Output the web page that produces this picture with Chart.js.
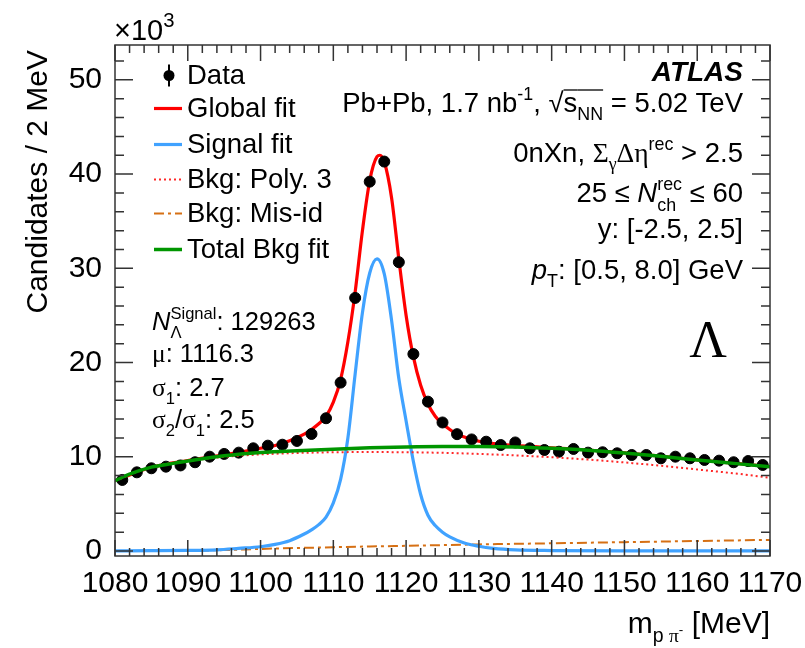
<!DOCTYPE html>
<html>
<head>
<meta charset="utf-8">
<script src="https://cdn.jsdelivr.net/npm/chart.js@4.4.1/dist/chart.umd.min.js"></script>
<style>
html, body { margin: 0; padding: 0; background: #fff; }
#wrap { width: 805px; height: 648px; }
</style>
</head>
<body>
<div id="wrap"><canvas id="c" width="805" height="648"></canvas></div>
<script>
//--Data (x10^3 candidates / 2 MeV)----------------------------
var dataMass = [1081, 1083, 1085, 1087, 1089, 1091, 1093, 1095, 1097, 1099,
                1101, 1103, 1105, 1107, 1109, 1111, 1113, 1115, 1117, 1119,
                1121, 1123, 1125, 1127, 1129, 1131, 1133, 1135, 1137, 1139,
                1141, 1143, 1145, 1147, 1149, 1151, 1153, 1155, 1157, 1159,
                1161, 1163, 1165, 1167, 1169];
var dataCounts = [7.54, 8.35, 8.78, 8.95, 9.08, 9.42, 10.01, 10.3, 10.44, 10.9,
                  11.18, 11.28, 11.68, 12.42, 14.09, 17.87, 26.86, 39.2, 41.33, 30.65,
                  20.9, 15.85, 13.64, 12.4, 11.84, 11.6, 11.25, 11.52, 10.9, 10.72,
                  10.54, 10.83, 10.44, 10.48, 10.37, 10.19, 10.19, 9.84, 10.01, 9.84,
                  9.66, 9.59, 9.42, 9.55, 9.13];

//--Global fit----------------------------
var globalMass = [1080, 1085, 1090, 1095, 1098, 1100, 1102, 1104, 1106, 1107,
                  1108, 1109, 1110, 1111, 1112, 1113, 1114, 1115, 1116, 1116.4,
                  1117, 1118, 1119, 1120, 1121, 1122, 1123, 1124, 1125, 1126,
                  1127, 1128, 1129, 1130, 1132, 1135, 1140, 1145, 1150, 1155,
                  1160, 1165, 1170];
var globalFit = [7.45, 8.88, 9.6, 10.2, 10.6, 10.9, 11.2, 11.7, 12.4, 12.9,
                 13.5, 14.3, 15.8, 18.2, 22.2, 27.5, 34.0, 39.3, 41.85, 42.0,
                 41.3, 37.5, 31.0, 25.0, 20.6, 17.6, 15.6, 14.3, 13.5, 12.9,
                 12.4, 12.1, 11.85, 11.65, 11.4, 11.2, 10.95, 10.72, 10.42, 10.07,
                 9.67, 9.32, 8.97];

//--Signal fit----------------------------
var signalMass = [1080, 1085, 1090, 1094, 1097, 1100, 1102, 1104, 1106, 1107,
                  1108, 1109, 1110, 1111, 1112, 1113, 1114, 1115, 1116, 1117,
                  1118, 1119, 1120, 1121, 1122, 1123, 1124, 1125, 1126, 1128,
                  1130, 1132, 1135, 1140, 1150, 1160, 1170];
var signalFit = [0.02, 0.03, 0.06, 0.13, 0.28, 0.45, 0.7, 1.1, 1.8, 2.25,
                 2.8, 3.6, 5.1, 7.6, 12.0, 18.8, 25.3, 29.5, 31.0, 29.4,
                 24.5, 18.3, 13.8, 9.5, 6.0, 3.8, 2.7, 2.0, 1.5, 0.85,
                 0.5, 0.28, 0.12, 0.05, 0.02, 0.02, 0.02];

//--Backgrounds----------------------------
var polyMass = [1080, 1085, 1090, 1095, 1100, 1105, 1110, 1115, 1120, 1125,
                1130, 1135, 1140, 1145, 1150, 1155, 1160, 1165, 1170];
var polyBkg = [7.45, 8.9, 9.55, 10.0, 10.25, 10.4, 10.48, 10.5, 10.48, 10.42,
               10.3, 10.15, 9.95, 9.7, 9.4, 9.05, 8.65, 8.25, 7.78];

var misidMass = [1080, 1090, 1095, 1100, 1105, 1110, 1115, 1120, 1130, 1140, 1150, 1160, 1170];
var misidBkg = [0, 0.02, 0.1, 0.22, 0.32, 0.4, 0.48, 0.55, 0.7, 0.82, 0.94, 1.06, 1.18];

var totalMass = [1080, 1082, 1085, 1088, 1090, 1095, 1100, 1105, 1110, 1115,
                 1120, 1125, 1130, 1135, 1140, 1145, 1150, 1155, 1160, 1165, 1170];
var totalBkg = [7.45, 8.15, 8.9, 9.3, 9.55, 10.1, 10.45, 10.65, 10.8, 10.95,
                11.05, 11.1, 11.1, 11.05, 10.9, 10.7, 10.4, 10.05, 9.65, 9.3, 8.95];

var xTicks = [1080, 1090, 1100, 1110, 1120, 1130, 1140, 1150, 1160, 1170];
var yTicks = [0, 10, 20, 30, 40, 50];

//--Helpers----------------------------
var SANS = "'Liberation Sans', Arial, sans-serif";
var SERIF = "'Liberation Serif', 'Times New Roman', serif";

function pts(xs, ys) {
    return xs.map(function(x, i) { return { x: x, y: ys[i] }; });
}

function fontStr(p, size) {
    var sz = size * (p.s || 1);
    return (p.it ? 'italic ' : '') + (p.b ? 'bold ' : '') + sz + 'px ' + (p.serif ? SERIF : SANS);
}

function partWidth(ctx, p, size) {
    if (p.stack) {
        ctx.font = fontStr({ s: 0.65 }, size);
        return Math.max(ctx.measureText(p.stack[0]).width, ctx.measureText(p.stack[1]).width);
    }
    ctx.font = fontStr(p, size);
    return ctx.measureText(p.t).width;
}

function drawRich(ctx, parts, x, y, size, align) {
    var w = 0;
    parts.forEach(function(p) { w += partWidth(ctx, p, size); });
    var cx = align === 'right' ? x - w : x;
    ctx.textAlign = 'left';
    ctx.textBaseline = 'alphabetic';
    ctx.fillStyle = '#000';
    parts.forEach(function(p) {
        var pw = partWidth(ctx, p, size);
        if (p.stack) {
            ctx.font = fontStr({ s: 0.65 }, size);
            ctx.fillText(p.stack[0], cx, y - 0.45 * size);
            ctx.fillText(p.stack[1], cx, y + 0.32 * size);
        } else {
            ctx.font = fontStr(p, size);
            ctx.fillText(p.t, cx, y + (p.dy || 0) * size);
            if (p.ovl) {
                ctx.save();
                ctx.strokeStyle = '#000';
                ctx.lineWidth = 1.3;
                ctx.beginPath();
                ctx.moveTo(cx, y - 0.8 * size);
                ctx.lineTo(cx + pw, y - 0.8 * size);
                ctx.stroke();
                ctx.restore();
            }
        }
        cx += pw;
    });
}

//--Plugin: frame, ticks, texts, legend----------------------------
var atlasPlugin = {
    id: 'atlas',
    afterDraw: function(chart) {
        var ctx = chart.ctx, a = chart.chartArea;
        var xs = chart.scales.x, ys = chart.scales.y;
        ctx.save();
        ctx.strokeStyle = '#333';
        ctx.lineWidth = 1.5;
        ctx.strokeRect(a.left, a.top, a.right - a.left, a.bottom - a.top);

        ctx.beginPath();
        var v, px, len;
        for (v = 1080; v <= 1170; v += 2) {
            px = xs.getPixelForValue(v);
            len = (v % 10 === 0) ? 16 : 8;
            ctx.moveTo(px, a.bottom); ctx.lineTo(px, a.bottom - len);
            ctx.moveTo(px, a.top); ctx.lineTo(px, a.top + len);
        }
        for (v = 0; v <= 52; v += 2) {
            px = ys.getPixelForValue(v);
            len = (v % 10 === 0) ? 18 : 9;
            ctx.moveTo(a.left, px); ctx.lineTo(a.left + len, px);
            ctx.moveTo(a.right, px); ctx.lineTo(a.right - len, px);
        }
        ctx.stroke();

        // axis titles
        drawRich(ctx, [{ t: 'm' }, { t: 'p ', s: 0.65, dy: 0.3 }, { t: 'π', serif: 1, s: 0.65, dy: 0.3 },
                       { t: '-', s: 0.45, dy: 0.02 }, { t: ' [MeV]' }], 770, 633, 30, 'right');
        ctx.save();
        ctx.translate(47, 50);
        ctx.rotate(-Math.PI / 2);
        ctx.font = '30px ' + SANS;
        ctx.textAlign = 'right';
        ctx.textBaseline = 'alphabetic';
        ctx.fillText('Candidates / 2 MeV', 0, 0);
        ctx.restore();
        drawRich(ctx, [{ t: '×10' }, { t: '3', s: 0.7, dy: -0.45 }], 114, 40, 29, 'left');

        // right-hand labels
        drawRich(ctx, [{ t: 'ATLAS', b: 1, it: 1 }], 743, 81, 28, 'right');
        drawRich(ctx, [{ t: 'Pb+Pb, 1.7 nb' }, { t: '-1', s: 0.65, dy: -0.45 }, { t: ', ' }, { t: '√' },
                       { t: 's', ovl: 1 }, { t: 'NN', s: 0.65, dy: 0.3, ovl: 1 }, { t: ' = 5.02 TeV' }], 743, 112, 27.5, 'right');
        drawRich(ctx, [{ t: '0nXn, ' }, { t: 'Σ', serif: 1 }, { t: 'γ', serif: 1, s: 0.65, dy: 0.3 },
                       { t: 'Δη', serif: 1 }, { t: 'rec', s: 0.65, dy: -0.45 }, { t: ' > 2.5' }], 743, 162, 27.5, 'right');
        drawRich(ctx, [{ t: '25 ≤ ' }, { t: 'N', it: 1 }, { stack: ['rec', 'ch'] }, { t: ' ≤ 60' }], 743, 202, 27.5, 'right');
        drawRich(ctx, [{ t: 'y: [-2.5, 2.5]' }], 743, 238, 27.5, 'right');
        drawRich(ctx, [{ t: 'p', it: 1 }, { t: 'T', s: 0.65, dy: 0.3 }, { t: ': [0.5, 8.0] GeV' }], 743, 279, 27.5, 'right');

        ctx.font = '52px ' + SERIF;
        ctx.textAlign = 'center';
        ctx.textBaseline = 'alphabetic';
        ctx.fillText('Λ', 708, 357);

        // fit parameters
        drawRich(ctx, [{ t: 'N', it: 1 }, { stack: ['Signal', 'Λ'] }, { t: ': 129263' }], 152, 330, 25.5, 'left');
        drawRich(ctx, [{ t: 'μ', serif: 1 }, { t: ': 1116.3' }], 152, 362, 25.5, 'left');
        drawRich(ctx, [{ t: 'σ', serif: 1 }, { t: '1', s: 0.65, dy: 0.3 }, { t: ': 2.7' }], 152, 396, 25.5, 'left');
        drawRich(ctx, [{ t: 'σ', serif: 1 }, { t: '2', s: 0.65, dy: 0.3 }, { t: '/' }, { t: 'σ', serif: 1 },
                       { t: '1', s: 0.65, dy: 0.3 }, { t: ': 2.5' }], 152, 428, 25.5, 'left');

        // legend
        var entries = ['Data', 'Global fit', 'Signal fit', 'Bkg: Poly. 3', 'Bkg: Mis-id', 'Total Bkg fit'];
        var baseY = [84, 117, 153, 188, 222, 258];
        entries.forEach(function(name, i) {
            var ds = chart.data.datasets.find(function(d) { return d.label === name; });
            var ly = baseY[i] - 8.5;
            if (name === 'Data') {
                ctx.strokeStyle = '#000';
                ctx.lineWidth = 2;
                ctx.beginPath();
                ctx.moveTo(169, ly - 11); ctx.lineTo(169, ly + 11);
                ctx.stroke();
                ctx.fillStyle = '#000';
                ctx.beginPath();
                ctx.arc(169, ly, 5.5, 0, Math.PI * 2);
                ctx.fill();
            } else {
                ctx.strokeStyle = ds.borderColor;
                ctx.lineWidth = ds.borderWidth;
                ctx.setLineDash(ds.borderDash || []);
                ctx.beginPath();
                ctx.moveTo(154, ly); ctx.lineTo(182, ly);
                ctx.stroke();
                ctx.setLineDash([]);
            }
            ctx.fillStyle = '#000';
            ctx.font = '27.5px ' + SANS;
            ctx.textAlign = 'left';
            ctx.textBaseline = 'alphabetic';
            ctx.fillText(name, 187, baseY[i]);
        });
        ctx.restore();
    }
};

//--Chart----------------------------
Chart.defaults.font.family = SANS;
Chart.defaults.color = '#000';

function curve(label, xs, ys, color, width, dash, order) {
    return {
        label: label, type: 'line', data: pts(xs, ys),
        borderColor: color, borderWidth: width, borderDash: dash,
        pointRadius: 0, fill: false, cubicInterpolationMode: 'monotone', order: order
    };
}

var ctx = document.getElementById('c').getContext('2d');
var myChart = new Chart(ctx, {
    type: 'scatter',
    data: {
        datasets: [
            curve('Total Bkg fit', totalMass, totalBkg, 'rgb(0,150,0)', 3.5, [], 1),
            curve('Bkg: Poly. 3', polyMass, polyBkg, 'rgb(255,40,40)', 2, [2, 3], 2),
            {
                label: 'Data', data: pts(dataMass, dataCounts),
                backgroundColor: '#000', borderColor: '#000',
                pointRadius: 5.5, pointHoverRadius: 5.5, showLine: false, order: 3
            },
            curve('Global fit', globalMass, globalFit, 'rgb(255,0,0)', 3.2, [], 4),
            curve('Signal fit', signalMass, signalFit, 'rgb(64,162,255)', 3.2, [], 5),
            curve('Bkg: Mis-id', misidMass, misidBkg, 'rgb(214,112,20)', 2, [10, 4, 3, 4], 6)
        ]
    },
    options: {
        responsive: false,
        animation: false,
        layout: { padding: { top: 45, right: 35, left: 0, bottom: 0 } },
        plugins: { legend: { display: false }, tooltip: { enabled: false } },
        scales: {
            x: {
                type: 'linear', min: 1080, max: 1170,
                grid: { display: false }, border: { display: false },
                ticks: { font: { size: 30 }, padding: 2, color: '#000', maxRotation: 0, autoSkip: false,
                         callback: function(v) { return String(v); } },
                afterBuildTicks: function(s) { s.ticks = xTicks.map(function(v) { return { value: v }; }); },
                afterFit: function(s) { s.height = 92; }
            },
            y: {
                type: 'linear', min: -0.53, max: 53.7,
                grid: { display: false }, border: { display: false },
                ticks: { font: { size: 30 }, padding: 5, color: '#000', autoSkip: false,
                         callback: function(v) { return String(v); } },
                afterBuildTicks: function(s) { s.ticks = yTicks.map(function(v) { return { value: v }; }); },
                afterFit: function(s) { s.width = 115; }
            }
        }
    },
    plugins: [atlasPlugin]
});
</script>
</body>
</html>
